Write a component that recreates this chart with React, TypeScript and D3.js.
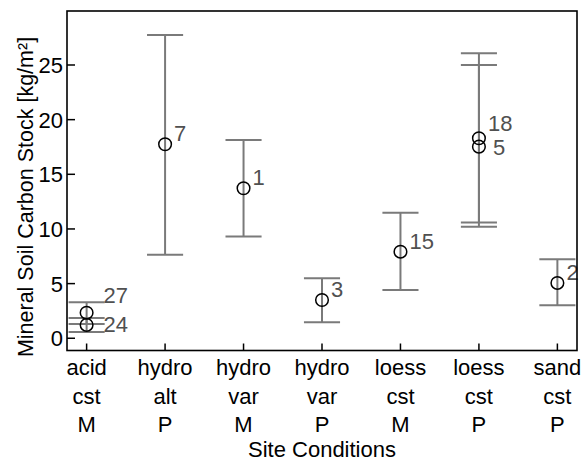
import React from "react";
import * as d3 from "d3";

// Categories (three-line labels)
const categories = ["acid cst M", "hydro alt P", "hydro var M", "hydro var P", "loess cst M", "loess cst P", "sand cst P"];
const catLine1 = ["acid", "hydro", "hydro", "hydro", "loess", "loess", "sand"];
const catLine2 = ["cst", "alt", "var", "var", "cst", "cst", "cst"];
const catLine3 = ["M", "P", "M", "P", "M", "P", "P"];

// Points: category index (1-based), mean, lower, upper, sample count label
const pointCat = [1, 1, 2, 3, 4, 5, 6, 6, 7];
const pointMean = [2.34, 1.22, 17.75, 13.72, 3.5, 7.92, 18.3, 17.53, 5.06];
const pointLow = [1.3, 0.58, 7.65, 9.3, 1.46, 4.42, 10.6, 10.21, 3.02];
const pointHigh = [3.29, 1.85, 27.75, 18.14, 5.49, 11.49, 26.07, 25.0, 7.22];
const pointN = ["27", "24", "7", "1", "3", "15", "18", "5", "2"];

const yTicks = [0, 5, 10, 15, 20, 25];

// layout constants (not data)
const W = 588, H = 461;
const L = 67, R = 577, T = 11, B = 350.5;
const FONT = "'Liberation Sans', Arial, Helvetica, sans-serif";
const FS = 22;
const labelNudge: Record<string, [number, number]> = {
  "27": [17, -10], "24": [17, 7], "18": [9, -7], "5": [14, 8],
};

export default function App() {
  const x = d3.scaleLinear().domain([0.75, 7.25]).range([L, R]);
  const y = d3.scaleLinear().domain([-1.12, 29.94]).range([B, T]);
  const capHalf = x(1.23) - x(1);

  return (
    <svg width={W} height={H} style={{ position: "absolute", left: 0, top: 0 }} fontFamily={FONT}>
      <rect x={0} y={0} width={W} height={H} fill="#fff" />
      {/* error bars */}
      {pointCat.map((c, i) => {
        const cx = x(c);
        return (
          <g key={"e" + i} stroke="#7a7a7a" strokeWidth={2} fill="none">
            <line x1={cx} x2={cx} y1={y(pointLow[i])} y2={y(pointHigh[i])} />
            <line x1={cx - capHalf} x2={cx + capHalf} y1={y(pointLow[i])} y2={y(pointLow[i])} />
            <line x1={cx - capHalf} x2={cx + capHalf} y1={y(pointHigh[i])} y2={y(pointHigh[i])} />
          </g>
        );
      })}
      {/* points */}
      {pointCat.map((c, i) => (
        <circle key={"p" + i} cx={x(c)} cy={y(pointMean[i])} r={6.3} fill="none" stroke="#000" strokeWidth={1.5} />
      ))}
      {/* labels */}
      {pointCat.map((c, i) => {
        const nudge = labelNudge[pointN[i]] || [9, -3];
        return (
          <text key={"l" + i} x={x(c) + nudge[0]} y={y(pointMean[i]) + nudge[1]} fontSize={FS} fill="#505050">
            {pointN[i]}
          </text>
        );
      })}
      {/* frame */}
      <rect x={L} y={T} width={R - L} height={B - T} fill="none" stroke="#000" strokeWidth={1.6} />
      {/* y ticks */}
      {yTicks.map((t) => (
        <g key={"yt" + t}>
          <line x1={L} x2={L + 8} y1={y(t)} y2={y(t)} stroke="#000" strokeWidth={1.5} />
          <text x={L - 4} y={y(t)} dy="0.36em" textAnchor="end" fontSize={FS} fill="#000">{t}</text>
        </g>
      ))}
      {/* x ticks & category labels */}
      {categories.map((c, i) => {
        const cx = x(i + 1);
        return (
          <g key={"xt" + c}>
            <line x1={cx} x2={cx} y1={B} y2={B - 7} stroke="#000" strokeWidth={1.5} />
            <text x={cx} y={375} textAnchor="middle" fontSize={FS} fill="#000">{catLine1[i]}</text>
            <text x={cx} y={403.5} textAnchor="middle" fontSize={FS} fill="#000">{catLine2[i]}</text>
            <text x={cx} y={431.5} textAnchor="middle" fontSize={FS} fill="#000">{catLine3[i]}</text>
          </g>
        );
      })}
      <text x={(L + R) / 2} y={457} textAnchor="middle" fontSize={FS} fill="#000">Site Conditions</text>
      <text transform={`translate(33,197) rotate(-90)`} textAnchor="middle" fontSize={21.5} fill="#000">
        Mineral Soil Carbon Stock [kg/m²]
      </text>
    </svg>
  );
}
